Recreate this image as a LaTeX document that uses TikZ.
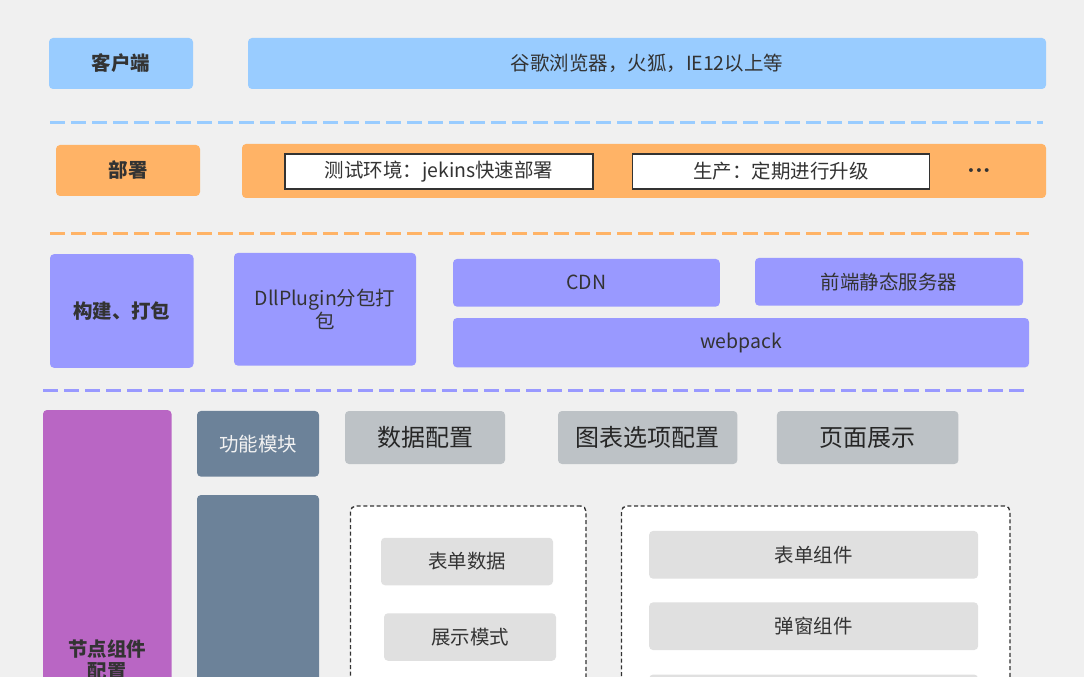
\documentclass[tikz,border=0pt]{standalone}
\usepackage{fontspec}
\setmainfont{Noto Sans CJK SC}
\newfontfamily\symfont{DejaVu Sans}
\usetikzlibrary{arrows,shapes}
\definecolor{bggray}{HTML}{F0F0F0}
\definecolor{txt}{HTML}{333333}
\definecolor{clientblue}{HTML}{99CCFF}
\definecolor{deployorange}{HTML}{FFB366}
\definecolor{buildviolet}{HTML}{9999FF}
\definecolor{nodepurple}{HTML}{B966C4}
\definecolor{slate}{HTML}{6C8299}
\definecolor{tabgray}{HTML}{BDC2C6}
\definecolor{itemgray}{HTML}{E0E0E0}
\tikzstyle{block}=[rectangle,rounded corners=3pt,inner sep=0pt,text=txt,font=\fontsize{14.6}{17}\selectfont]
\tikzstyle{headblock}=[block,font=\fontsize{14.6}{17}\selectfont\bfseries]
\tikzstyle{tabblock}=[block,fill=tabgray,text=black!85,font=\fontsize{18}{21}\selectfont]
\tikzstyle{itemblock}=[block,fill=itemgray]
\tikzstyle{envbox}=[rectangle,draw=txt,fill=white,line width=1.1pt,inner sep=0pt,text=txt,font=\fontsize{14.6}{17}\selectfont]
\tikzstyle{groupframe}=[rectangle,draw=txt,fill=white,line width=1pt,dash pattern=on 3pt off 2pt,rounded corners=4pt,inner sep=0pt]
\tikzstyle{separator}=[line width=2.2pt,dash pattern=on 11.25pt off 4.5pt]

\begin{document}
\begin{tikzpicture}[x=0.75pt,y=-0.75pt]
    \useasboundingbox[fill=bggray] (0,0) rectangle (1084,677);

    % left headers of each layer
    \foreach \x/\y/\w/\h/\col/\name/\label in {121/63.5/144/51/clientblue/client/{客户端}, 128/170.5/144/51/deployorange/deploy/{部署}, 121.75/311/143.5/113.7/buildviolet/build/{构建、打包}}
        \node[headblock, fill=\col, minimum width=\w*0.75pt, minimum height=\h*0.75pt] (\name) at (\x,\y) {\label};

    \node[block, fill=clientblue, minimum width=798*0.75pt, minimum height=51*0.75pt] (browser) at (647,63.5) {谷歌浏览器，火狐，IE12以上等};

    \node[block, fill=deployorange, minimum width=804*0.75pt, minimum height=54*0.75pt] (deploybar) at (644,171) {};
    \node[envbox, minimum width=308*0.75pt, minimum height=35*0.75pt] (testenv) at (439,171.5) {测试环境：jekins快速部署};
    \node[envbox, minimum width=297*0.75pt, minimum height=35*0.75pt] (prodenv) at (781,171.5) {生产：定期进行升级};
    \node[text=txt, font=\symfont\fontsize{10}{10}\selectfont, inner sep=0pt] (more) at (979,172) {•••};

    \foreach \x/\y/\w/\h/\name/\label in {586.4/282.8/266.7/47.7/cdn/{CDN}, 889/281.8/268/47.7/staticsrv/{前端静态服务器}, 741/342.7/576/49.3/webpack/{webpack}}
        \node[block, fill=buildviolet, minimum width=\w*0.75pt, minimum height=\h*0.75pt] (\name) at (\x,\y) {\label};
    \node[block, fill=buildviolet, minimum width=182*0.75pt, minimum height=112.7*0.75pt, align=center] (dll) at (325,309.3) {DllPlugin分包打\\包};

    % dashed separators
    \coordinate (sepA-l) at (50,122.5);  \coordinate (sepA-r) at (1043,122.5);
    \coordinate (sepB-l) at (50,233.3);  \coordinate (sepB-r) at (1029,233.3);
    \coordinate (sepC-l) at (43,390.3);  \coordinate (sepC-r) at (1024,390.3);
    \draw[separator, clientblue] (sepA-l) -- (sepA-r);
    \draw[separator, deployorange] (sepB-l) -- (sepB-r);
    \draw[separator, buildviolet] (sepC-l) -- (sepC-r);

    % node component config
    \node[headblock, fill=nodepurple, minimum width=128.5*0.75pt, minimum height=500*0.75pt, align=center] (nodecfg) at (107.25,660) {节点组件\\配置};
    \node[block, fill=slate, text=white!95!black, minimum width=122*0.75pt, minimum height=65.7*0.75pt] (funcmod) at (258,443.8) {功能模块};
    \node[block, fill=slate, minimum width=122*0.75pt, minimum height=400*0.75pt] (funcbody) at (258,695) {};

    \foreach \x/\name/\w/\label in {425/datacfg/160/{数据配置}, 647.7/chartcfg/179.4/{图表选项配置}, 867.7/pageview/181.5/{页面展示}}
        \node[tabblock, minimum width=\w*0.75pt, minimum height=53*0.75pt] (\name) at (\x,437.5) {\label};

    \node[groupframe, minimum width=235.5*0.75pt, minimum height=400*0.75pt] (datagroup) at (468.25,706) {};
    \node[groupframe, minimum width=388.5*0.75pt, minimum height=400*0.75pt] (compgroup) at (815.75,706) {};

    \foreach \x/\y/\name/\label in {467/561.5/formdata/{表单数据}, 470/637/viewmode/{展示模式}}
        \node[itemblock, minimum width=172*0.75pt, minimum height=47.5*0.75pt] (\name) at (\x,\y) {\label};

    \foreach \y/\name/\label in {554.8/formcomp/{表单组件}, 626.2/dialogcomp/{弹窗组件}, 698.4/morecomp/{}}
        \node[itemblock, minimum width=329*0.75pt, minimum height=47.7*0.75pt] (\name) at (813.6,\y) {\label};

\end{tikzpicture}
\end{document}
